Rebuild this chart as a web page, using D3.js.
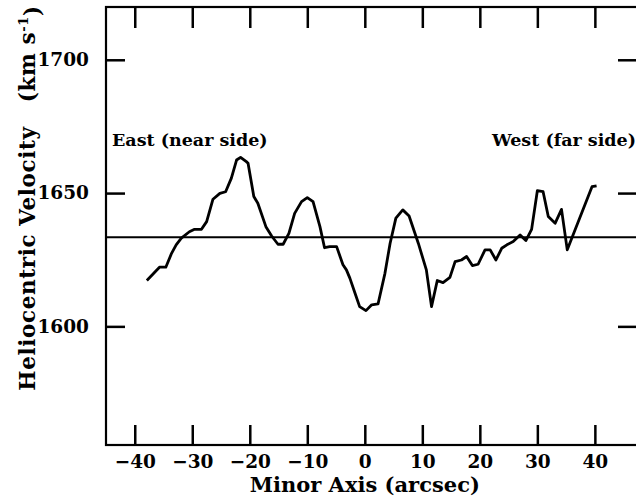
<!DOCTYPE html>
<html>
<head>
<meta charset="utf-8">
<script src="https://cdn.jsdelivr.net/npm/d3@7"></script>
<style>
  body { margin: 0; background: #fff; }
  svg text { font-family: "DejaVu Serif", serif; font-weight: bold; fill: #000; }
  .axis path { display: none; }
  .axis line { stroke: #000; stroke-width: 2.5; }
</style>
</head>
<body>
<script>
// minor axis offset (arcsec) and heliocentric velocity (km/s)
var offsets = [-37.9, -35.7, -34.6, -33.6, -32.8, -31.9, -30.5, -29.6, -28.4, -27.5,
  -26.4, -25.2, -24.2, -23.2, -22.3, -21.6, -20.6, -20.3, -19.3, -18.6,
  -17.2, -16.2, -15.1, -14.2, -13.2, -12.2, -11.0, -10.0, -9.0, -7.8,
  -7.0, -6.1, -4.9, -3.8, -3.2, -2.6, -1.7, -0.9, 0.2, 1.2,
  2.3, 3.5, 4.4, 5.4, 6.6, 7.7, 9.3, 10.7, 11.6, 12.6,
  13.6, 14.8, 15.7, 16.8, 17.7, 18.7, 19.7, 20.9, 21.8, 22.8,
  23.8, 24.7, 25.8, 27.0, 28.0, 29.0, 30.0, 31.0, 31.9, 33.1,
  34.2, 35.2, 39.5, 40.3];
var velocities = [1617.2, 1622.2, 1622.2, 1627.4, 1630.6, 1633.1, 1635.5, 1636.4, 1636.4, 1639.3,
  1647.7, 1649.9, 1650.5, 1655.6, 1662.4, 1663.4, 1661.8, 1661.2, 1648.7, 1646.2,
  1637.4, 1633.9, 1630.8, 1630.8, 1634.9, 1642.4, 1646.8, 1648.3, 1646.8, 1637.4,
  1629.5, 1629.9, 1629.9, 1623.1, 1621.2, 1618.1, 1612.4, 1607.4, 1605.9, 1608.1,
  1608.4, 1619.9, 1631.2, 1640.6, 1643.7, 1641.4, 1631.2, 1621.2, 1607.4, 1617.2,
  1616.4, 1618.4, 1624.3, 1624.9, 1626.2, 1622.8, 1623.3, 1628.7, 1628.7, 1624.9,
  1629.3, 1630.6, 1631.8, 1634.3, 1632.2, 1636.4, 1650.9, 1650.5, 1641.2, 1638.7,
  1643.9, 1628.7, 1652.4, 1652.7];
var systemic = 1633.4;
var xTicks = [-40, -30, -20, -10, 0, 10, 20, 30, 40];
var yTicks = [1600, 1650, 1700];
var labels = ["East (near side)", "West (far side)"];

var width = 636, height = 501;
var pLeft = 106, pRight = 638, pTop = 7, pBottom = 445;

var svg = d3.select("body").append("svg")
  .attr("width", width)
  .attr("height", height);

var x = d3.scaleLinear().domain([-45, 47.5]).range([pLeft, pRight]);
var y = d3.scaleLinear().domain([1555.5, 1719.8]).range([pBottom, pTop]);

// frame
svg.append("rect")
  .attr("x", pLeft).attr("y", pTop)
  .attr("width", pRight - pLeft).attr("height", pBottom - pTop)
  .attr("fill", "none").attr("stroke", "#000").attr("stroke-width", 2.2);

// ticks, all pointing inward
var xb = svg.append("g").attr("class", "axis")
  .attr("transform", "translate(0," + pBottom + ")")
  .call(d3.axisBottom(x).tickValues(xTicks).tickSizeInner(-20).tickSizeOuter(0).tickPadding(10));
xb.selectAll("text").style("font-size", "18.5px");

svg.append("g").attr("class", "axis")
  .attr("transform", "translate(0," + pTop + ")")
  .call(d3.axisTop(x).tickValues(xTicks).tickSizeInner(-21).tickSizeOuter(0).tickFormat(""));

var yl = svg.append("g").attr("class", "axis")
  .attr("transform", "translate(" + pLeft + ",0)")
  .call(d3.axisLeft(y).tickValues(yTicks).tickFormat(d3.format("d"))
    .tickSizeInner(-19).tickSizeOuter(0).tickPadding(17));
yl.selectAll("text").style("font-size", "18.5px");

svg.append("g").attr("class", "axis")
  .attr("transform", "translate(" + pRight + ",0)")
  .call(d3.axisRight(y).tickValues(yTicks).tickSizeInner(-20).tickSizeOuter(0).tickFormat(""));

// systemic velocity line
svg.append("line")
  .attr("x1", pLeft).attr("x2", pRight)
  .attr("y1", y(systemic)).attr("y2", y(systemic))
  .attr("stroke", "#000").attr("stroke-width", 2);

// velocity curve
var line = d3.line()
  .x(function(d, i) { return x(offsets[i]); })
  .y(function(d) { return y(d); });

svg.append("path")
  .datum(velocities)
  .attr("d", line)
  .attr("fill", "none")
  .attr("stroke", "#000")
  .attr("stroke-width", 2.8)
  .attr("stroke-linejoin", "round");

// side labels
svg.append("text").attr("x", 112).attr("y", 146)
  .style("font-size", "17.5px").text(labels[0]);
svg.append("text").attr("x", 636).attr("y", 146)
  .attr("text-anchor", "end").style("font-size", "17.5px").text(labels[1]);

// axis titles
svg.append("text")
  .attr("x", x(0)).attr("y", 492)
  .attr("text-anchor", "middle").style("font-size", "21px")
  .text("Minor Axis (arcsec)");

var yt = svg.append("text")
  .attr("transform", "translate(35,198) rotate(-90)")
  .attr("text-anchor", "middle").style("font-size", "21.5px")
  .style("letter-spacing", "0.6px");
yt.append("tspan").text("Heliocentric Velocity\u00a0\u00a0\u00a0(km s");
yt.append("tspan").attr("dy", "-0.55em").style("font-size", "13px").text("-1");
yt.append("tspan").attr("dy", "0.55em").text(")");
</script>
</body>
</html>
